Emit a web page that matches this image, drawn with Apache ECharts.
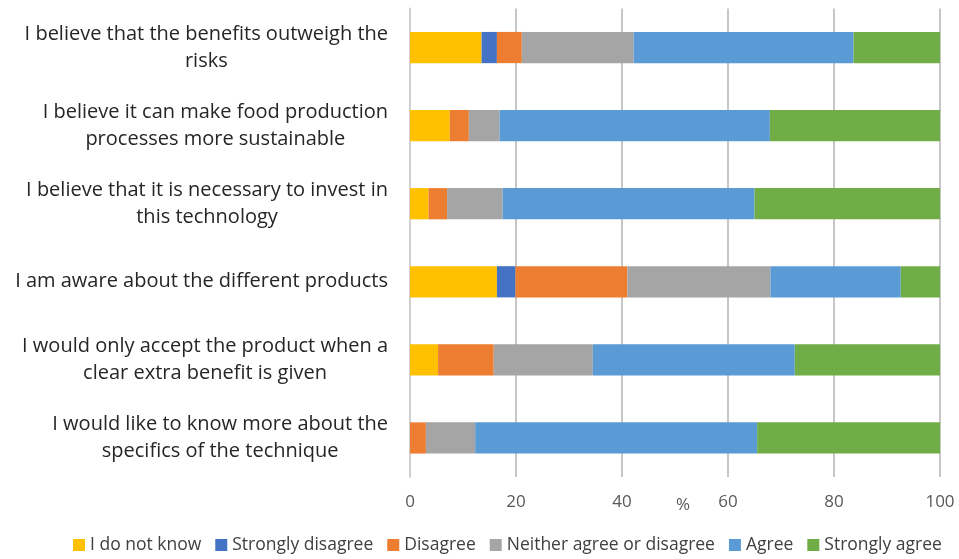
<!DOCTYPE html>
<html>
<head>
<meta charset="utf-8">
<script src="https://cdn.jsdelivr.net/npm/echarts@6/dist/echarts.min.js"></script>
<style>
  html, body { margin: 0; padding: 0; background: #ffffff; }
  #chart { width: 959px; height: 559px; }
</style>
</head>
<body>
<div id="chart"></div>
<script>
const categories = [
  "I believe that the benefits outweigh the\nrisks",
  "I believe it can make food production\nprocesses more sustainable",
  "I believe that it is necessary to invest in\nthis technology",
  "I am aware about the different products",
  "I would only accept the product when a\nclear extra benefit is given",
  "I would like to know more about the\nspecifics of the technique"
];
const seriesNames = ["I do not know", "Strongly disagree", "Disagree", "Neither agree or disagree", "Agree", "Strongly agree"];
const dontKnow = [13.5, 7.5, 3.5, 16.4, 5.3, 0];
const stronglyDisagree = [2.9, 0, 0, 3.5, 0, 0];
const disagree = [4.7, 3.6, 3.5, 21.1, 10.5, 3.0];
const neither = [21.1, 5.8, 10.5, 27.0, 18.7, 9.3];
const agree = [41.5, 51.0, 47.5, 24.6, 38.1, 53.2];
const stronglyAgree = [16.3, 32.1, 35.0, 7.4, 27.4, 34.5];
const xTicks = [0, 20, 40, 60, 80, 100];

const seriesValues = [dontKnow, stronglyDisagree, disagree, neither, agree, stronglyAgree];
const colors = ["#FFC000", "#4472C4", "#ED7D31", "#A5A5A5", "#5B9BD5", "#70AD47"];
const FONT = "'Open Sans', 'Liberation Sans', sans-serif";

const chart = echarts.init(document.getElementById('chart'), null, { renderer: 'canvas' });
chart.setOption({
  animation: false,
  color: colors,
  textStyle: { fontFamily: FONT },
  grid: { left: 410, right: 19, top: 8.5, bottom: 82, containLabel: false },
  legend: {
    bottom: 0,
    left: 68,
    icon: 'rect',
    itemWidth: 12,
    itemHeight: 12,
    itemGap: 14,
    textStyle: { fontSize: 17.5, color: '#404040', fontFamily: FONT },
    data: seriesNames
  },
  xAxis: {
    type: 'value',
    min: xTicks[0],
    max: xTicks[xTicks.length - 1],
    interval: 20,
    name: '%',
    nameLocation: 'middle',
    nameGap: 20,
    nameMoveOverlap: false,
    nameTextStyle: { fontSize: 17, color: '#595959', fontFamily: FONT, padding: [0, 0, 0, 16] },
    axisLine: { show: false },
    axisTick: { show: false },
    axisLabel: { fontSize: 17, color: '#595959', margin: 17, fontFamily: FONT },
    splitLine: { show: true, lineStyle: { color: '#b3b3b3', width: 1.5 } }
  },
  yAxis: {
    type: 'category',
    inverse: true,
    data: categories,
    axisLine: { show: true, lineStyle: { color: '#d0d0d0', width: 2 } },
    axisTick: { show: false },
    axisLabel: {
      margin: 22,
      formatter: function (v) {
        return v.split('\n').map(function (l) { return '{c|' + l + '}'; }).join('\n');
      },
      rich: {
        c: { align: 'center', fontSize: 20, lineHeight: 27, color: '#262626', fontFamily: FONT }
      }
    }
  },
  series: seriesNames.map(function (name, i) {
    return {
      name: name,
      type: 'bar',
      stack: 'total',
      barWidth: '40%',
      data: seriesValues[i]
    };
  })
});
</script>
</body>
</html>
